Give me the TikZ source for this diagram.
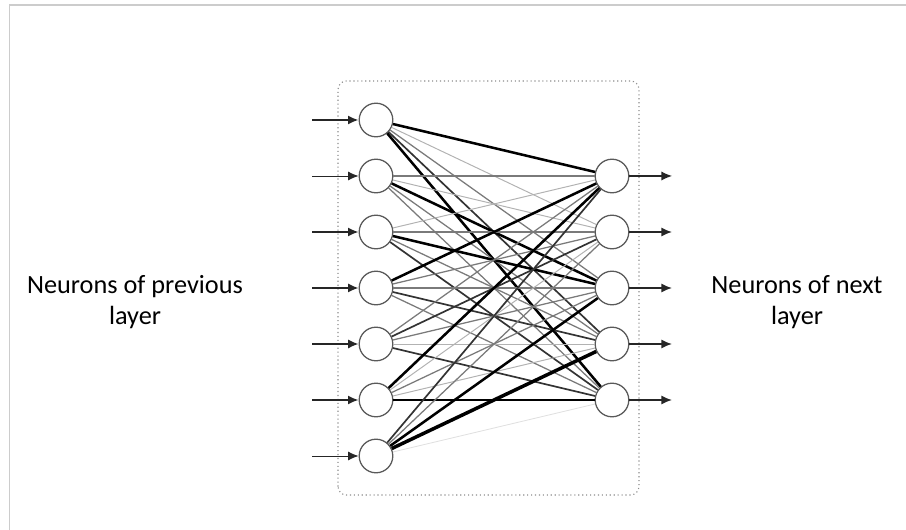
\documentclass[tikz,border=0pt]{standalone}
\usepackage{fontspec}
\setmainfont{Carlito}
\usetikzlibrary{arrows.meta}

\tikzset{
  neuron/.style={circle, draw=black!65, line width=0.9pt, fill=white, minimum size=0.84cm, inner sep=0pt},
  feed/.style={draw=black!85, -{Latex[length=7.5pt,width=6.5pt]}},
  layerbox/.style={draw=black!45, dotted, line width=0.8pt, rounded corners=6pt},
  caption/.style={align=center, font=\fontsize{18.7}{22}\selectfont},
  % connection weights, faint to heavy
  w0/.style={draw=black!12, line width=0.6pt},
  w1/.style={draw=black!30, line width=0.7pt},
  w2/.style={draw=black!52, line width=0.9pt},
  w3/.style={draw=black!80, line width=1.2pt},
  w4/.style={draw=black, line width=1.8pt},
  w5/.style={draw=black, line width=2.5pt},
}

\begin{document}
\begin{tikzpicture}
    \useasboundingbox (0,0) rectangle (22.65,13.25);
    \draw[black!20, line width=1pt] (0.24,0) |- (22.65,13.12);

    \draw[layerbox] (8.45,0.875) rectangle (15.975,11.225);

    % previous layer
    \node[neuron] (l1) at (9.4,10.25) {};
    \node[neuron] (l2) at (9.4,8.85) {};
    \node[neuron] (l3) at (9.4,7.45) {};
    \node[neuron] (l4) at (9.4,6.05) {};
    \node[neuron] (l5) at (9.4,4.65) {};
    \node[neuron] (l6) at (9.4,3.25) {};
    \node[neuron] (l7) at (9.4,1.85) {};

    % next layer
    \node[neuron] (r1) at (15.3,8.85) {};
    \node[neuron] (r2) at (15.3,7.45) {};
    \node[neuron] (r3) at (15.3,6.05) {};
    \node[neuron] (r4) at (15.3,4.65) {};
    \node[neuron] (r5) at (15.3,3.25) {};

    \coordinate (in1) at (7.8,10.25);
    \coordinate (in2) at (7.8,8.85);
    \coordinate (in3) at (7.8,7.45);
    \coordinate (in4) at (7.8,6.05);
    \coordinate (in5) at (7.8,4.65);
    \coordinate (in6) at (7.8,3.25);
    \coordinate (in7) at (7.8,1.85);
    \coordinate (out1) at (16.8,8.85);
    \coordinate (out2) at (16.8,7.45);
    \coordinate (out3) at (16.8,6.05);
    \coordinate (out4) at (16.8,4.65);
    \coordinate (out5) at (16.8,3.25);

    \draw[feed, line width=1.4pt] (in1) -- (l1);
    \draw[feed, line width=0.7pt] (in2) -- (l2);
    \draw[feed, line width=1.2pt] (in3) -- (l3);
    \draw[feed, line width=1.1pt] (in4) -- (l4);
    \draw[feed, line width=1.1pt] (in5) -- (l5);
    \draw[feed, line width=1.2pt] (in6) -- (l6);
    \draw[feed, line width=0.7pt] (in7) -- (l7);

    \draw[feed, line width=0.8pt] (r1) -- (out1);
    \draw[feed, line width=1.2pt] (r2) -- (out2);
    \draw[feed, line width=1.2pt] (r3) -- (out3);
    \draw[feed, line width=1.2pt] (r4) -- (out4);
    \draw[feed, line width=1.2pt] (r5) -- (out5);

    \draw[w4] (l1) -- (r1);
    \draw[w1] (l1) -- (r2);
    \draw[w2] (l1) -- (r3);
    \draw[w3] (l1) -- (r4);
    \draw[w4] (l1) -- (r5);

    \draw[w2] (l2) -- (r1);
    \draw[w1] (l2) -- (r2);
    \draw[w4] (l2) -- (r3);
    \draw[w2] (l2) -- (r4);
    \draw[w2] (l2) -- (r5);

    \draw[w1] (l3) -- (r1);
    \draw[w2] (l3) -- (r2);
    \draw[w4] (l3) -- (r3);
    \draw[w2] (l3) -- (r4);
    \draw[w3] (l3) -- (r5);

    \draw[w4] (l4) -- (r1);
    \draw[w2] (l4) -- (r2);
    \draw[w2] (l4) -- (r3);
    \draw[w3] (l4) -- (r4);
    \draw[w2] (l4) -- (r5);

    \draw[w2] (l5) -- (r1);
    \draw[w3] (l5) -- (r2);
    \draw[w2] (l5) -- (r3);
    \draw[w1] (l5) -- (r4);
    \draw[w3] (l5) -- (r5);

    \draw[w4] (l6) -- (r1);
    \draw[w1] (l6) -- (r2);
    \draw[w2] (l6) -- (r3);
    \draw[w1] (l6) -- (r4);
    \draw[w4] (l6) -- (r5);

    \draw[w3] (l7) -- (r1);
    \draw[w2] (l7) -- (r2);
    \draw[w4] (l7) -- (r3);
    \draw[w5] (l7) -- (r4);
    \draw[w0] (l7) -- (r5);

    \node[caption] (prevtxt) at (3.375,5.7) {Neurons of previous\\layer};
    \node[caption] (nexttxt) at (19.925,5.7) {Neurons of next\\layer};
  \end{tikzpicture}
\end{document}
